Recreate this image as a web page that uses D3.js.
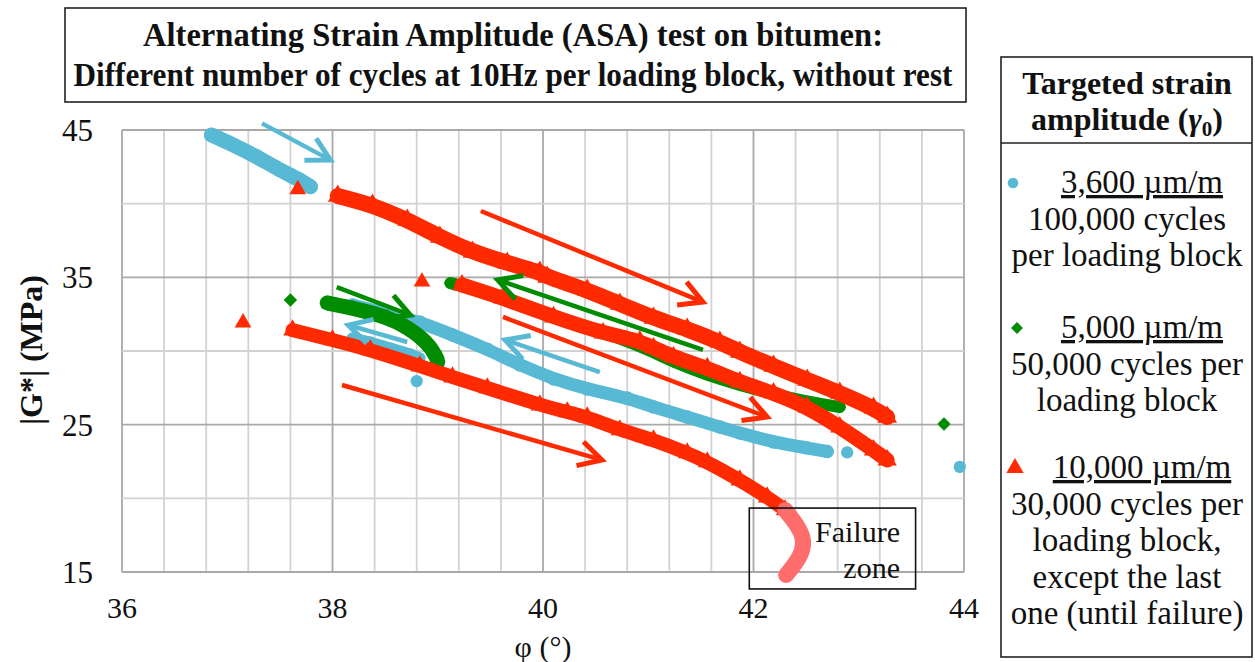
<!DOCTYPE html>
<html><head><meta charset="utf-8">
<script src="https://cdn.jsdelivr.net/npm/d3@7"></script>
<style>
body{margin:0;background:#fff}
svg{display:block}
text{font-family:"Liberation Serif","Times New Roman",serif;fill:#111}
</style>
</head><body>
<svg id="c" width="1255" height="662"></svg>
<script>
// ---------- axes ----------
const phiDomain = [36, 44];
const gDomain = [15, 45];
const phiTicks = [36, 38, 40, 42, 44];
const gTicks = [15, 25, 35, 45];

// ---------- series: [phi (°), |G*| (MPa)] ----------
// 3,600 µm/m
const blue1 = [[36.85,44.66],[37.06,43.98],[37.28,43.19],[37.50,42.28],[37.69,41.61],[37.79,41.15]];
const blue2 = [[38.19,33.12],[38.52,32.51],[38.83,31.97],[39.14,31.09],[39.47,30.13],[39.78,29.05],[40.10,28.10],[40.42,27.42],[40.80,26.81],[41.05,26.20],[41.37,25.52],[41.68,24.84],[41.87,24.43],[42.19,23.82],[42.51,23.42],[42.70,23.18]];
const blue3 = [[38.19,30.88],[38.36,30.61],[38.55,30.20],[38.74,29.80],[38.83,29.52]];
const blueSingles = [[38.80,27.96],[42.89,23.12],[43.96,22.13]];
// 5,000 µm/m
const green1 = [[37.95,33.26],[38.19,32.92],[38.52,32.31],[38.71,31.63],[38.90,30.61],[38.99,29.59],[39.00,29.25]];
const green2 = [[39.12,34.61],[39.31,34.28],[39.78,33.12],[40.26,31.97],[40.73,30.88],[41.05,29.93],[41.24,29.25],[41.56,28.37],[41.87,27.69],[42.19,27.08],[42.51,26.54],[42.82,26.20]];
const greenSingles = [[37.60,33.46],[43.81,25.04]];
// 10,000 µm/m
const red1 = [[38.05,40.52],[38.38,39.91],[38.71,38.89],[39.02,37.74],[39.33,36.72],[39.66,35.97],[39.97,35.36],[40.04,35.02],[40.42,34.14],[40.73,33.19],[41.05,32.24],[41.37,31.49],[41.68,30.61],[41.87,29.93],[42.19,28.98],[42.51,28.03],[42.82,27.15],[43.14,26.13],[43.27,25.52]];
const red2 = [[39.23,34.48],[39.62,33.60],[40.10,32.31],[40.57,31.22],[40.92,30.68],[41.05,30.20],[41.24,29.59],[41.56,28.85],[41.87,27.90],[42.19,27.15],[42.51,26.20],[42.82,24.84],[43.14,23.28],[43.27,22.60]];
const red3 = [[37.62,31.42],[38.00,30.75],[38.36,30.07],[38.83,28.98],[39.14,28.23],[39.47,27.49],[39.97,26.33],[40.23,25.86],[40.42,25.52],[40.73,24.64],[41.05,23.96],[41.37,23.08],[41.56,22.47],[41.87,21.24],[42.13,20.09],[42.30,19.21]];
const redFailure = [[42.30,19.21],[42.41,18.26],[42.49,17.17],[42.45,16.02],[42.31,14.8]];
const redSingles = [[37.67,40.97],[37.15,31.92],[38.85,34.70]];

// ---------- annotation arrows: [phiStart, GStart, phiTip, GTip] ----------
const blueArrows = [[37.33,45.45,37.98,42.96],[40.54,28.57,39.64,30.75],[38.71,30.61,38.15,31.76]];
const greenArrows = [[41.52,30.07,39.57,34.82],[38.04,34.34,38.74,32.44]];
const redArrows = [[39.41,39.50,41.52,33.32],[39.62,32.31,42.13,25.52],[38.09,27.69,40.56,22.60]];
const failureBox = [41.96, 19.34, 43.54, 13.85];

// ---------- texts ----------
const titleLines = ["Alternating Strain Amplitude (ASA) test on bitumen:", "Different number of cycles at 10Hz per loading block, without rest"];
const xTitle = "φ (°)";
const yTitle = "|G*| (MPa)";
const legendHeader = ["Targeted strain", "amplitude ("];
const legendLabels = ["3,600 µm/m", "5,000 µm/m", "10,000 µm/m"];
const legendLines = [["100,000 cycles","per loading block"],["50,000 cycles per","loading block"],["30,000 cycles per","loading block,","except the last","one (until failure)"]];
const failureText = ["Failure", "zone"];

// ---------- colours ----------
const cBlue = "#58B9D4", cGreen = "#008C00", cRed = "#FF2A00", cPink = "#FF6D6D";

const svg = d3.select("#c");
svg.append("rect").attr("width",1255).attr("height",662).attr("fill","#fff");

const x = d3.scaleLinear().domain(phiDomain).range([122, 964]);
const y = d3.scaleLinear().domain(gDomain).range([572, 130]);

// grid
const grid = svg.append("g");
const xMinor = d3.range(0, 21).map(i => 36 + i * 0.4);
const yMinor = d3.range(0, 7).map(i => 15 + i * 5);
grid.selectAll(".vx").data(xMinor).join("line")
  .attr("x1", d => x(d)).attr("x2", d => x(d)).attr("y1", y(45)).attr("y2", y(15))
  .attr("stroke", d => phiTicks.some(t => Math.abs(t - d) < 1e-6) ? "#a9a9a9" : "#d2d2d2")
  .attr("stroke-width", 1.8);
grid.selectAll(".hy").data(yMinor).join("line")
  .attr("y1", d => y(d)).attr("y2", d => y(d)).attr("x1", x(36)).attr("x2", x(44))
  .attr("stroke", d => gTicks.includes(d) ? "#a9a9a9" : "#d2d2d2")
  .attr("stroke-width", 1.8);

// series
const line = d3.line().x(d => x(d[0])).y(d => y(d[1])).curve(d3.curveBasis);
const plot = svg.append("g");
function band(data, color, w, sym, size, rot) {
  plot.append("path").attr("d", line(data)).attr("fill", "none").attr("stroke", color)
    .attr("stroke-width", w).attr("stroke-linecap", "round").attr("stroke-linejoin", "round");
  if (sym) {
    const s = d3.symbol().type(sym).size(size);
    plot.append("g").selectAll("path").data(data).join("path")
      .attr("d", s).attr("fill", color)
      .attr("transform", d => `translate(${x(d[0])},${y(d[1])})` + (rot ? ` rotate(${rot})` : ""));
  }
}
function singles(data, color, sym, size, rot) {
  const s = d3.symbol().type(sym).size(size);
  plot.append("g").selectAll("path").data(data).join("path")
    .attr("d", s).attr("fill", color)
    .attr("transform", d => `translate(${x(d[0])},${y(d[1])})` + (rot ? ` rotate(${rot})` : ""));
}

band(blue1, cBlue, 15, d3.symbolCircle, 170);
band(blue2, cBlue, 13, d3.symbolCircle, 140);
band(blue3, cBlue, 11, d3.symbolCircle, 100);
singles(blueSingles, cBlue, d3.symbolCircle, 120);

band(green1, cGreen, 15, d3.symbolSquare, 120, 45);
band(green2, cGreen, 12, d3.symbolSquare, 80, 45);
singles(greenSingles, cGreen, d3.symbolSquare, 90, 45);

band(red1, cRed, 16, d3.symbolTriangle, 170);
band(red2, cRed, 15, d3.symbolTriangle, 160);
band(red3, cRed, 14, d3.symbolTriangle, 150);
band(redFailure, cPink, 16, null);
singles(redSingles, cRed, d3.symbolTriangle, 120);

// arrows
const arr = svg.append("g");
function arrow(a, color) {
  const x1 = x(a[0]), y1 = y(a[1]), x2 = x(a[2]), y2 = y(a[3]);
  const ang = Math.atan2(y2 - y1, x2 - x1), L = 26, h = 0.5;
  arr.append("line").attr("x1", x1).attr("y1", y1).attr("x2", x2 - 3 * Math.cos(ang)).attr("y2", y2 - 3 * Math.sin(ang))
    .attr("stroke", color).attr("stroke-width", 4.5);
  const b1 = [x2 - L * Math.cos(ang - h), y2 - L * Math.sin(ang - h)];
  const b2 = [x2 - L * Math.cos(ang + h), y2 - L * Math.sin(ang + h)];
  arr.append("path").attr("d", `M${b1[0]},${b1[1]}L${x2},${y2}L${b2[0]},${b2[1]}`)
    .attr("fill", "none").attr("stroke", color).attr("stroke-width", 5).attr("stroke-linejoin", "miter");
}
blueArrows.forEach(a => arrow(a, cBlue));
greenArrows.forEach(a => arrow(a, cGreen));
redArrows.forEach(a => arrow(a, cRed));

// failure box
svg.append("rect").attr("x", x(failureBox[0])).attr("y", y(failureBox[1]))
  .attr("width", x(failureBox[2]) - x(failureBox[0])).attr("height", y(failureBox[3]) - y(failureBox[1]))
  .attr("fill", "none").attr("stroke", "#111").attr("stroke-width", 1.6);
failureText.forEach((t, i) => svg.append("text").attr("x", 900).attr("y", 542 + i * 36)
  .attr("text-anchor", "end").attr("font-size", 30).text(t));

// tick labels
svg.selectAll(".xt").data(phiTicks).join("text").attr("x", d => x(d)).attr("y", 618)
  .attr("text-anchor", "middle").attr("font-size", 30).text(d => d);
svg.selectAll(".yt").data(gTicks).join("text").attr("x", 93).attr("y", d => y(d) + 11)
  .attr("text-anchor", "end").attr("font-size", 31).text(d => d);

// axis titles
svg.append("text").attr("x", 543).attr("y", 657).attr("text-anchor", "middle").attr("font-size", 30).text(xTitle);
svg.append("text").attr("transform", "translate(42,350) rotate(-90)").attr("text-anchor", "middle")
  .attr("font-size", 32).attr("font-weight", "bold").text(yTitle);

// title box
svg.append("rect").attr("x", 65).attr("y", 8).attr("width", 901).attr("height", 94)
  .attr("fill", "#fff").attr("stroke", "#222").attr("stroke-width", 1.6);
const titleWidths = [740, 879];
titleLines.forEach((t, i) => svg.append("text").attr("x", 513).attr("y", 46 + i * 40)
  .attr("text-anchor", "middle").attr("font-size", 33).attr("font-weight", "bold")
  .attr("textLength", titleWidths[i]).attr("lengthAdjust", "spacingAndGlyphs").text(t));

// legend
const lg = svg.append("g");
lg.append("rect").attr("x", 1001).attr("y", 57).attr("width", 251).attr("height", 600)
  .attr("fill", "#fff").attr("stroke", "#222").attr("stroke-width", 1.6);
lg.append("line").attr("x1", 1001).attr("x2", 1252).attr("y1", 143).attr("y2", 143).attr("stroke", "#222").attr("stroke-width", 1.6);
lg.append("text").attr("x", 1127).attr("y", 94).attr("text-anchor", "middle").attr("font-size", 32).attr("font-weight", "bold").text(legendHeader[0]);
const h2 = lg.append("text").attr("x", 1127).attr("y", 130).attr("text-anchor", "middle").attr("font-size", 32).attr("font-weight", "bold");
h2.append("tspan").text(legendHeader[1]);
h2.append("tspan").attr("font-style", "italic").text("γ");
h2.append("tspan").attr("font-size", 21).attr("dy", 6).text("0");
h2.append("tspan").attr("dy", -6).text(")");

const itemTop = [193, 338, 478];
const itemColors = [cBlue, cGreen, cRed];
const itemSyms = [d3.symbolCircle, d3.symbolSquare, d3.symbolTriangle];
const itemSizes = [90, 70, 130];
const itemMarkX = [1013, 1017, 1015];
legendLabels.forEach((lab, i) => {
  const yb = itemTop[i];
  lg.append("path").attr("d", d3.symbol().type(itemSyms[i]).size(itemSizes[i])())
    .attr("fill", itemColors[i])
    .attr("transform", `translate(${itemMarkX[i]},${yb - 10})` + (i === 1 ? " rotate(45)" : ""));
  lg.append("text").attr("x", 1142).attr("y", yb).attr("text-anchor", "middle").attr("font-size", 33)
    .style("text-decoration", "underline").text(lab);
  legendLines[i].forEach((t, j) => lg.append("text").attr("x", 1127).attr("y", yb + 36.5 * (j + 1))
    .attr("text-anchor", "middle").attr("font-size", 33).text(t));
});
</script>
</body></html>
